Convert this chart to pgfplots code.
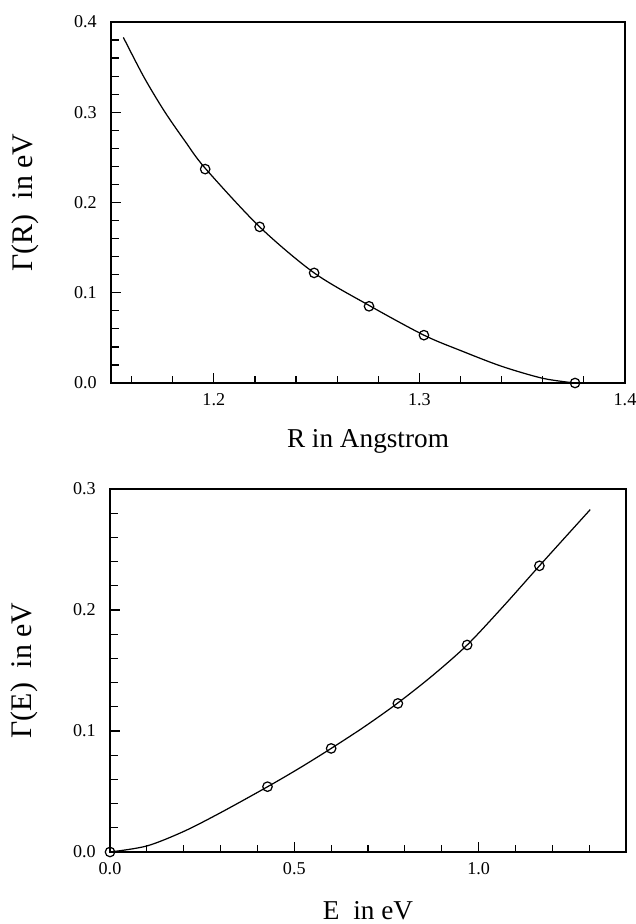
\documentclass[border=0pt]{standalone}
\usepackage{fontspec}
\setmainfont{Liberation Serif}
\usepackage{pgfplots}
\pgfplotsset{compat=1.18}

% one reference pixel = 0.02cm
\pgfplotsset{
  gammaaxis/.style={
    scale only axis,
    axis line style={line width=0.85pt},
    tick align=inside,
    xtick pos=bottom, ytick pos=left,
    major tick length=0.2cm, minor tick length=0.15cm,
    every tick/.style={black, line width=0.7pt},
    minor y tick num=4,
    tick label style={font=\fontsize{10.3}{12}\selectfont},
    xticklabel style={yshift=-2.3pt},
    yticklabel style={xshift=-4.6pt},
    /pgf/number format/assume math mode=true,
    /pgf/number format/.cd, fixed, fixed zerofill, precision=1, /pgfplots/.cd,
    x label style={at={(axis description cs:0.5,-0.163)}, anchor=center,
      font=\fontsize{15.5}{18}\selectfont},
    y label style={at={(axis description cs:-0.167,0.5)}, anchor=center,
      rotate=0, font=\fontsize{17}{20}\selectfont},
  },
  curve/.style={black, line width=0.7pt, smooth, tension=0.5, no marks},
  dots/.style={only marks, mark=o, mark size=2.7pt,
    mark options={black, line width=0.7pt}},
}

\begin{document}
\begin{tikzpicture}
\useasboundingbox (0,0) rectangle (12.7cm,-18.48cm);

% upper panel: Gamma(R)
\begin{axis}[gammaaxis,
  at={(2.22cm,-7.66cm)}, anchor=south west,
  width=10.28cm, height=7.22cm,
  xmin=1.15, xmax=1.4, ymin=0, ymax=0.4,
  xtick={1.2,1.3,1.4},
  minor xtick={1.16,1.18,1.22,1.24,1.26,1.28,1.32,1.34,1.36,1.38},
  ytick={0,0.1,0.2,0.3,0.4},
  xlabel={R in Angstrom},
  ylabel={Γ(R)\ \ in eV},
]
\addplot[curve] coordinates {
  (1.156,0.383) (1.166,0.339) (1.176,0.301) (1.186,0.268)
  (1.1958,0.238) (1.2223,0.173) (1.2488,0.122) (1.2755,0.086)
  (1.3022,0.053) (1.32,0.036) (1.34,0.0185) (1.36,0.0052) (1.3757,0.0)
};
\addplot[dots] coordinates {
  (1.1958,0.237) (1.2223,0.173) (1.2488,0.122) (1.2755,0.085)
  (1.3022,0.053) (1.3757,0.0)
};
\end{axis}

% lower panel: Gamma(E)
\begin{axis}[gammaaxis,
  at={(2.20cm,-17.04cm)}, anchor=south west,
  width=10.32cm, height=7.26cm,
  xmin=0, xmax=1.4, ymin=0, ymax=0.3,
  xtick={0,0.5,1.0},
  minor xtick={0.1,0.2,0.3,0.4,0.6,0.7,0.8,0.9,1.1,1.2,1.3},
  ytick={0,0.1,0.2,0.3},
  xlabel={E\ \ in eV},
  ylabel={Γ(E)\ \ in eV},
]
\addplot[curve] coordinates {
  (0,0.0) (0.1,0.005) (0.2,0.017) (0.3,0.0325) (0.4278,0.054)
  (0.515,0.0695) (0.600,0.0856) (0.69,0.1035) (0.781,0.1232)
  (0.875,0.1458) (0.969,0.1711) (1.067,0.2030) (1.165,0.2365)
  (1.303,0.283)
};
\addplot[dots] coordinates {
  (0,0) (0.4273,0.054) (0.600,0.0856) (0.781,0.1228) (0.969,0.1711)
  (1.165,0.2365)
};
\end{axis}
\end{tikzpicture}
\end{document}
